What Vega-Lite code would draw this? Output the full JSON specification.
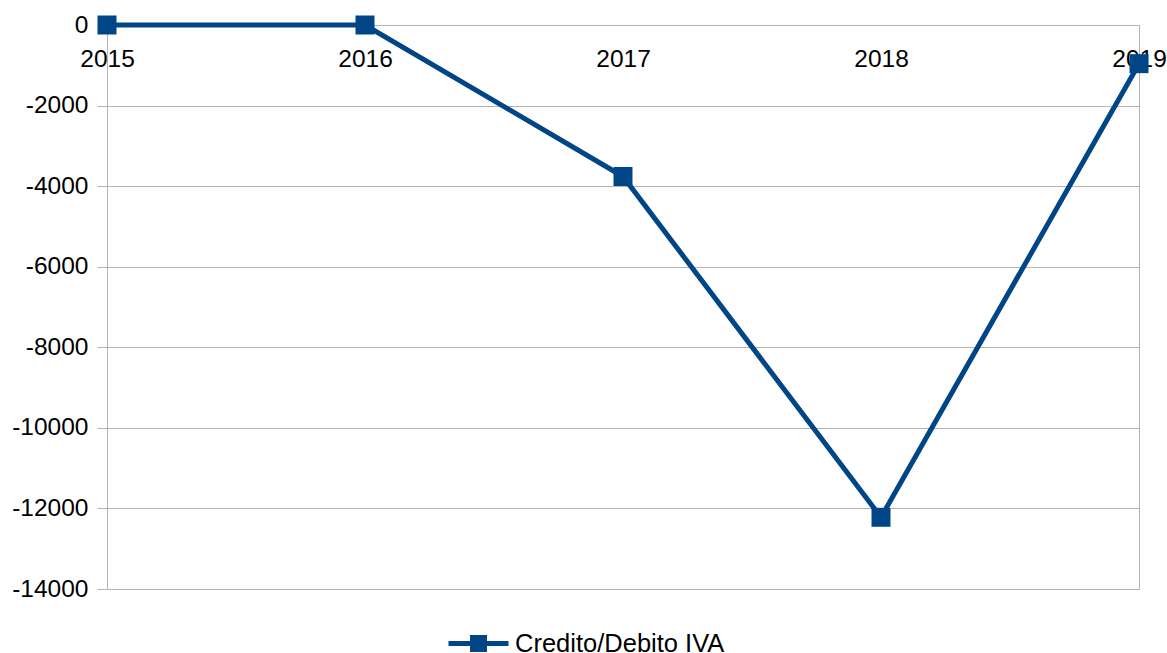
{
  "$schema": "https://vega.github.io/schema/vega-lite/v6.json",
  "width": 1032,
  "height": 564,
  "autosize": {"type": "none"},
  "padding": {"left": 107, "top": 25, "right": 28, "bottom": 64},
  "background": "white",
  "config": {"view": {"stroke": "#b3b3b3", "strokeWidth": 1}, "font": "Liberation Sans"},
  "data": {"values": [
    {"year": "2015", "value": 0, "series": "Credito/Debito IVA"},
    {"year": "2016", "value": 0, "series": "Credito/Debito IVA"},
    {"year": "2017", "value": -3760, "series": "Credito/Debito IVA"},
    {"year": "2018", "value": -12220, "series": "Credito/Debito IVA"},
    {"year": "2019", "value": -960, "series": "Credito/Debito IVA"}
  ]},
  "layer": [
    {
      "mark": {"type": "line", "strokeWidth": 5},
      "encoding": {
        "x": {"field": "year", "type": "ordinal", "scale": {"type": "point", "padding": 0},
          "axis": {"orient": "bottom", "offset": -564, "labelAngle": 0, "domain": false, "ticks": false, "grid": false,
            "labelFontSize": 24.5, "labelColor": "black", "labelPadding": 22, "title": null, "labelFont": "Liberation Sans"}},
        "y": {"field": "value", "type": "quantitative", "scale": {"domain": [-14000, 0], "nice": false, "zero": false},
          "axis": {"values": [0, -2000, -4000, -6000, -8000, -10000, -12000, -14000], "labelExpr": "'' + datum.value",
            "gridColor": "#b3b3b3", "tickColor": "#b3b3b3", "tickSize": 10, "domain": false, "labelFontSize": 24.5,
            "labelPadding": 9, "title": null, "labelColor": "black", "labelFont": "Liberation Sans"}},
        "color": {"field": "series", "type": "nominal", "scale": {"range": ["#004586"]},
          "legend": {"title": null, "orient": "none", "legendX": 339, "legendY": 586,
            "symbolType": "M-1,0H1M-0.2,-0.2H0.2V0.2H-0.2Z", "symbolSize": 3600, "symbolStrokeWidth": 5,
            "symbolFillColor": "#004586", "symbolStrokeColor": "#004586", "symbolOpacity": 1,
            "labelFontSize": 25.5, "labelColor": "black", "labelOffset": 4, "labelLimit": 400, "labelFont": "Liberation Sans"}}
      }
    },
    {
      "mark": {"type": "point", "shape": "square", "filled": true, "size": 361, "color": "#004586", "opacity": 1},
      "encoding": {
        "x": {"field": "year", "type": "ordinal"},
        "y": {"field": "value", "type": "quantitative"}
      }
    }
  ]
}
